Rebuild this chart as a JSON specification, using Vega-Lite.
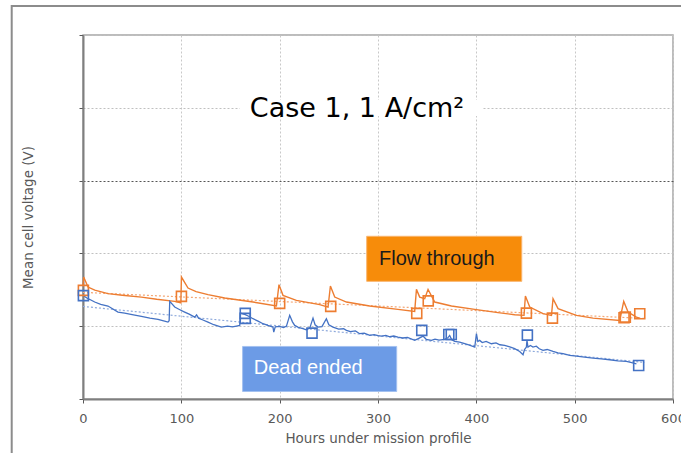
{
  "$schema": "https://vega.github.io/schema/vega-lite/v6.json",
  "width": 590,
  "height": 364,
  "autosize": {"type": "none"},
  "padding": {"left": 83, "top": 35, "right": 8, "bottom": 54},
  "background": "white",
  "config": {
    "font": "DejaVu Sans",
    "view": {"stroke": "#A6A6A6", "strokeWidth": 1.5},
    "axis": {
      "domainColor": "#7F7F7F",
      "domainWidth": 2,
      "tickColor": "#595959",
      "tickSize": 4,
      "labelColor": "#595959",
      "labelFont": "DejaVu Sans",
      "labelFontSize": 13,
      "labelFlush": false,
      "titleColor": "#595959",
      "titleFont": "DejaVu Sans",
      "titleFontSize": 13.5,
      "titleFontWeight": "normal",
      "gridDash": [2, 2]
    }
  },
  "datasets": {
    "frame": [{"x1": -72.5, "x2": 660, "y1": 0.94, "y2": 0.3}],
    "whitebox": [{"x1": 159.4, "x2": 406.5, "y1": 0.7886, "y2": 0.8106}],
    "boxes": [
      {"label": "Flow through", "x1": 288.5, "x2": 446.2, "y1": 0.5616, "y2": 0.6235, "th": 301.1, "tv": 0.5919},
      {"label": "Dead ended", "x1": 162.3, "x2": 319.0, "y1": 0.4103, "y2": 0.4722, "th": 173.6, "tv": 0.442}
    ],
    "trend": [
      {"series": "Flow through", "h": 0, "v": 0.5465},
      {"series": "Flow through", "h": 571, "v": 0.5107},
      {"series": "Dead ended", "h": 0, "v": 0.5272},
      {"series": "Dead ended", "h": 571, "v": 0.4502}
    ],
    "flow": [
      {"h": 0, "v": 0.555}, {"h": 0.7, "v": 0.5675}, {"h": 5.1, "v": 0.5538}, {"h": 12, "v": 0.5495},
      {"h": 25.4, "v": 0.5447}, {"h": 40, "v": 0.5425}, {"h": 59.4, "v": 0.54}, {"h": 75, "v": 0.537},
      {"h": 93.3, "v": 0.5341}, {"h": 99.5, "v": 0.532}, {"h": 100.1, "v": 0.5675}, {"h": 106.8, "v": 0.5524},
      {"h": 115, "v": 0.5475}, {"h": 127.1, "v": 0.5433}, {"h": 144.1, "v": 0.5387}, {"h": 172.9, "v": 0.5332},
      {"h": 196.7, "v": 0.5277}, {"h": 199.3, "v": 0.5571}, {"h": 203.4, "v": 0.5424}, {"h": 217, "v": 0.5355},
      {"h": 240.7, "v": 0.5296}, {"h": 249.2, "v": 0.5263}, {"h": 251.6, "v": 0.5552}, {"h": 256, "v": 0.54},
      {"h": 267.9, "v": 0.5332}, {"h": 291.6, "v": 0.5277}, {"h": 320.3, "v": 0.5231}, {"h": 337.3, "v": 0.5204},
      {"h": 339.1, "v": 0.5506}, {"h": 342.4, "v": 0.54}, {"h": 347.5, "v": 0.5378}, {"h": 350.9, "v": 0.5506},
      {"h": 357.7, "v": 0.5332}, {"h": 374.7, "v": 0.5277}, {"h": 398.4, "v": 0.5231}, {"h": 422, "v": 0.5186},
      {"h": 439, "v": 0.5158}, {"h": 448.5, "v": 0.5149}, {"h": 449.9, "v": 0.5414}, {"h": 454.3, "v": 0.5263},
      {"h": 467.8, "v": 0.5172}, {"h": 476.4, "v": 0.5149}, {"h": 478, "v": 0.5378}, {"h": 483.1, "v": 0.5241},
      {"h": 501.8, "v": 0.5149}, {"h": 518.7, "v": 0.5111}, {"h": 545.8, "v": 0.508}, {"h": 549.9, "v": 0.5341},
      {"h": 554.3, "v": 0.5194}, {"h": 562.8, "v": 0.5125}, {"h": 566, "v": 0.511}
    ],
    "dead": [
      {"h": 0, "v": 0.5433}, {"h": 2, "v": 0.5405}, {"h": 5.1, "v": 0.5378}, {"h": 8, "v": 0.536},
      {"h": 11.9, "v": 0.5332}, {"h": 18, "v": 0.53}, {"h": 25.4, "v": 0.5277}, {"h": 30, "v": 0.524},
      {"h": 35.6, "v": 0.5194}, {"h": 42.4, "v": 0.518}, {"h": 50, "v": 0.516}, {"h": 59.4, "v": 0.5135},
      {"h": 68, "v": 0.511}, {"h": 76.3, "v": 0.5094}, {"h": 82, "v": 0.5072}, {"h": 86.4, "v": 0.5056},
      {"h": 87.6, "v": 0.5075}, {"h": 88.2, "v": 0.5341}, {"h": 93.3, "v": 0.5263}, {"h": 98, "v": 0.523},
      {"h": 103.4, "v": 0.5194}, {"h": 108, "v": 0.5165}, {"h": 113.6, "v": 0.5125}, {"h": 115.5, "v": 0.5155},
      {"h": 117.5, "v": 0.511}, {"h": 122, "v": 0.5085}, {"h": 127.1, "v": 0.5056}, {"h": 133, "v": 0.502},
      {"h": 140.7, "v": 0.4988}, {"h": 147, "v": 0.5}, {"h": 152, "v": 0.499}, {"h": 156, "v": 0.5001},
      {"h": 159.4, "v": 0.5011}, {"h": 160.1, "v": 0.518}, {"h": 165, "v": 0.516}, {"h": 168, "v": 0.514},
      {"h": 172.9, "v": 0.5103}, {"h": 178, "v": 0.507}, {"h": 183.1, "v": 0.5034}, {"h": 188, "v": 0.501},
      {"h": 193.2, "v": 0.4988}, {"h": 194, "v": 0.4919}, {"h": 195.5, "v": 0.499}, {"h": 200, "v": 0.4997},
      {"h": 204, "v": 0.498}, {"h": 206.9, "v": 0.5001}, {"h": 210.2, "v": 0.5149}, {"h": 213, "v": 0.506},
      {"h": 215.3, "v": 0.5011}, {"h": 219, "v": 0.4985}, {"h": 223.7, "v": 0.4966}, {"h": 227, "v": 0.495},
      {"h": 230.6, "v": 0.4974}, {"h": 233.9, "v": 0.5111}, {"h": 236, "v": 0.502}, {"h": 239, "v": 0.4988},
      {"h": 243, "v": 0.4995}, {"h": 247.5, "v": 0.5103}, {"h": 250, "v": 0.502}, {"h": 254.2, "v": 0.4988},
      {"h": 260, "v": 0.496}, {"h": 265, "v": 0.4965}, {"h": 267.9, "v": 0.4942}, {"h": 272, "v": 0.4925},
      {"h": 277, "v": 0.4935}, {"h": 281.4, "v": 0.4897}, {"h": 286, "v": 0.4905}, {"h": 291.6, "v": 0.4873},
      {"h": 296, "v": 0.4885}, {"h": 300, "v": 0.487}, {"h": 303.5, "v": 0.4864}, {"h": 308, "v": 0.4875},
      {"h": 312, "v": 0.4855}, {"h": 316, "v": 0.4865}, {"h": 320.3, "v": 0.485}, {"h": 325, "v": 0.4838},
      {"h": 330, "v": 0.4845}, {"h": 337.3, "v": 0.4805}, {"h": 341, "v": 0.483}, {"h": 345.8, "v": 0.4864},
      {"h": 349, "v": 0.482}, {"h": 354.3, "v": 0.4805}, {"h": 358, "v": 0.4822}, {"h": 362, "v": 0.481},
      {"h": 367.8, "v": 0.4818}, {"h": 371, "v": 0.484}, {"h": 372.9, "v": 0.4873}, {"h": 375, "v": 0.4815},
      {"h": 378, "v": 0.4791}, {"h": 383, "v": 0.478}, {"h": 388.2, "v": 0.4759}, {"h": 393, "v": 0.474},
      {"h": 398.4, "v": 0.4713}, {"h": 400.1, "v": 0.4897}, {"h": 401.5, "v": 0.479}, {"h": 403.4, "v": 0.4805},
      {"h": 406, "v": 0.4775}, {"h": 410, "v": 0.479}, {"h": 415.3, "v": 0.4759}, {"h": 420, "v": 0.477},
      {"h": 424, "v": 0.4745}, {"h": 428.8, "v": 0.4736}, {"h": 434, "v": 0.4715}, {"h": 439, "v": 0.4691},
      {"h": 444.1, "v": 0.4653}, {"h": 447.5, "v": 0.4608}, {"h": 449, "v": 0.468}, {"h": 450.9, "v": 0.4713},
      {"h": 451.5, "v": 0.4805}, {"h": 452.5, "v": 0.4713}, {"h": 455, "v": 0.4735}, {"h": 457.6, "v": 0.4713},
      {"h": 461, "v": 0.4725}, {"h": 464, "v": 0.469}, {"h": 467.8, "v": 0.4667}, {"h": 472, "v": 0.468},
      {"h": 478, "v": 0.4653}, {"h": 483, "v": 0.4635}, {"h": 488.2, "v": 0.4622}, {"h": 495, "v": 0.46},
      {"h": 501.8, "v": 0.4589}, {"h": 510, "v": 0.4575}, {"h": 518.7, "v": 0.4561}, {"h": 527, "v": 0.455},
      {"h": 535.6, "v": 0.4539}, {"h": 544, "v": 0.4525}, {"h": 552.6, "v": 0.4516}, {"h": 558, "v": 0.45},
      {"h": 562.8, "v": 0.4484}
    ],
    "markers": [
      {"series": "Flow through", "h": 0.4, "v": 0.5492},
      {"series": "Flow through", "h": 100.1, "v": 0.541},
      {"series": "Flow through", "h": 200.0, "v": 0.5314},
      {"series": "Flow through", "h": 251.9, "v": 0.5272},
      {"series": "Flow through", "h": 339.4, "v": 0.5176},
      {"series": "Flow through", "h": 351.1, "v": 0.5348},
      {"series": "Flow through", "h": 450.9, "v": 0.518},
      {"series": "Flow through", "h": 477.4, "v": 0.5111},
      {"series": "Flow through", "h": 550.2, "v": 0.5117},
      {"series": "Flow through", "h": 551.5, "v": 0.5125},
      {"series": "Flow through", "h": 566.2, "v": 0.5172},
      {"series": "Dead ended", "h": 0.4, "v": 0.542},
      {"series": "Dead ended", "h": 165.0, "v": 0.5176},
      {"series": "Dead ended", "h": 165.0, "v": 0.5107},
      {"series": "Dead ended", "h": 232.9, "v": 0.4905},
      {"series": "Dead ended", "h": 344.5, "v": 0.4942},
      {"series": "Dead ended", "h": 372.0, "v": 0.4887},
      {"series": "Dead ended", "h": 374.5, "v": 0.4887},
      {"series": "Dead ended", "h": 451.9, "v": 0.4878},
      {"series": "Dead ended", "h": 565.1, "v": 0.4461}
    ],
    "title": [{"h": 169.7, "v": 0.7872, "t": "Case 1, 1 A/cm²"}]
  },
  "layer": [
    {
      "data": {"name": "frame"},
      "mark": {"type": "rect", "clip": false, "fillOpacity": 0, "stroke": "#8C8C8C", "strokeWidth": 2},
      "encoding": {
        "x": {"field": "x1", "type": "quantitative",
              "scale": {"domain": [0, 600], "nice": false, "zero": false},
              "axis": {"values": [0, 100, 200, 300, 400, 500, 600], "title": "Hours under mission profile",
                       "grid": true, "gridColor": "#C8C8C8", "labelPadding": 9, "titlePadding": 6}},
        "x2": {"field": "x2"},
        "y": {"field": "y1", "type": "quantitative",
              "scale": {"domain": [0.4, 0.9], "nice": false, "zero": false},
              "axis": {"values": [0.4, 0.5, 0.6, 0.7, 0.8, 0.9], "labels": false, "title": "Mean cell voltage (V)",
                       "grid": true, "titlePadding": 43,
                       "gridColor": {"condition": {"test": "abs(datum.value - 0.7) < 0.001", "value": "#555555"}, "value": "#C0C0C0"}}},
        "y2": {"field": "y2"}
      }
    },
    {
      "data": {"name": "whitebox"},
      "mark": {"type": "rect", "fill": "white"},
      "encoding": {
        "x": {"field": "x1", "type": "quantitative"}, "x2": {"field": "x2"},
        "y": {"field": "y1", "type": "quantitative"}, "y2": {"field": "y2"}
      }
    },
    {
      "data": {"name": "trend"},
      "transform": [{"filter": "datum.series === 'Flow through'"}],
      "mark": {"type": "line", "strokeDash": [2, 2], "strokeWidth": 1.2, "color": "#F4A775"},
      "encoding": {
        "x": {"field": "h", "type": "quantitative"},
        "y": {"field": "v", "type": "quantitative"}
      }
    },
    {
      "data": {"name": "trend"},
      "transform": [{"filter": "datum.series === 'Dead ended'"}],
      "mark": {"type": "line", "strokeDash": [2, 2], "strokeWidth": 1.2, "color": "#8FAADC"},
      "encoding": {
        "x": {"field": "h", "type": "quantitative"},
        "y": {"field": "v", "type": "quantitative"}
      }
    },
    {
      "data": {"name": "flow"},
      "mark": {"type": "line", "color": "#ED7D31", "strokeWidth": 1.4},
      "encoding": {
        "x": {"field": "h", "type": "quantitative"},
        "y": {"field": "v", "type": "quantitative"}
      }
    },
    {
      "data": {"name": "dead"},
      "mark": {"type": "line", "color": "#4472C4", "strokeWidth": 1.3},
      "encoding": {
        "x": {"field": "h", "type": "quantitative"},
        "y": {"field": "v", "type": "quantitative"}
      }
    },
    {
      "data": {"name": "markers"},
      "transform": [{"filter": "datum.series === 'Flow through'"}],
      "mark": {"type": "point", "shape": "square", "filled": false, "size": 100, "strokeWidth": 1.6, "opacity": 1, "color": "#ED7D31"},
      "encoding": {
        "x": {"field": "h", "type": "quantitative"},
        "y": {"field": "v", "type": "quantitative"}
      }
    },
    {
      "data": {"name": "markers"},
      "transform": [{"filter": "datum.series === 'Dead ended'"}],
      "mark": {"type": "point", "shape": "square", "filled": false, "size": 100, "strokeWidth": 1.6, "opacity": 1, "color": "#4472C4"},
      "encoding": {
        "x": {"field": "h", "type": "quantitative"},
        "y": {"field": "v", "type": "quantitative"}
      }
    },
    {
      "data": {"name": "boxes"},
      "transform": [{"filter": "datum.label === 'Flow through'"}],
      "layer": [
        {
          "mark": {"type": "rect", "fill": "#F78C0A", "stroke": "#F9B56E", "strokeWidth": 1},
          "encoding": {
            "x": {"field": "x1", "type": "quantitative"}, "x2": {"field": "x2"},
            "y": {"field": "y1", "type": "quantitative"}, "y2": {"field": "y2"}
          }
        },
        {
          "mark": {"type": "text", "align": "left", "baseline": "middle", "font": "Liberation Sans", "fontSize": 20, "color": "#1A1A1A"},
          "encoding": {
            "x": {"field": "th", "type": "quantitative"},
            "y": {"field": "tv", "type": "quantitative"},
            "text": {"field": "label"}
          }
        }
      ]
    },
    {
      "data": {"name": "boxes"},
      "transform": [{"filter": "datum.label === 'Dead ended'"}],
      "layer": [
        {
          "mark": {"type": "rect", "fill": "#6C9BE6", "stroke": "#A3C1F0", "strokeWidth": 1},
          "encoding": {
            "x": {"field": "x1", "type": "quantitative"}, "x2": {"field": "x2"},
            "y": {"field": "y1", "type": "quantitative"}, "y2": {"field": "y2"}
          }
        },
        {
          "mark": {"type": "text", "align": "left", "baseline": "middle", "font": "Liberation Sans", "fontSize": 20, "color": "#FFFFFF"},
          "encoding": {
            "x": {"field": "th", "type": "quantitative"},
            "y": {"field": "tv", "type": "quantitative"},
            "text": {"field": "label"}
          }
        }
      ]
    },
    {
      "data": {"name": "title"},
      "mark": {"type": "text", "align": "left", "baseline": "alphabetic", "font": "DejaVu Sans", "fontSize": 27, "color": "#000000"},
      "encoding": {
        "x": {"field": "h", "type": "quantitative"},
        "y": {"field": "v", "type": "quantitative"},
        "text": {"field": "t"}
      }
    }
  ]
}
